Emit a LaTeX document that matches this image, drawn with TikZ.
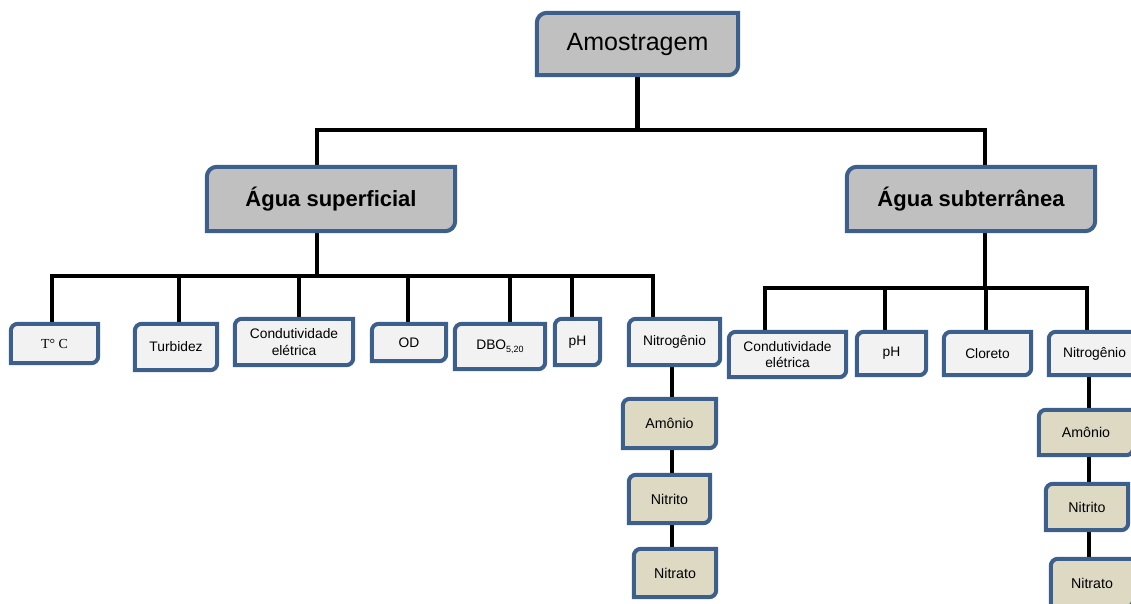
\documentclass[tikz,border=0pt]{standalone}
\usepackage{fontspec}
\setmainfont{Liberation Sans}
\newfontfamily\timesf{Liberation Serif}
\pgfdeclarelayer{lines}
\pgfdeclarelayer{boxes}
\pgfsetlayers{lines,boxes,main}
\definecolor{bord}{HTML}{3C5F8C}
\definecolor{topfill}{HTML}{C0C0C0}
\definecolor{leaffill}{HTML}{F2F2F2}
\definecolor{subfill}{HTML}{DDD9C3}
\tikzset{
  box/.style={inner sep=0pt, align=center, text=black},
  topbox/.style={box, font=\fontsize{25}{28}\selectfont},
  midbox/.style={box, font=\bfseries\fontsize{22}{26}\selectfont},
  leafbox/.style={box, font=\fontsize{13.8}{16.5}\selectfont},
  subbox/.style={box, font=\fontsize{14.2}{17}\selectfont},
  conn/.style={draw=black, line width=4.2pt},
  frame/.style={draw=bord, line width=4pt},
}
\newcommand\dgbox[3]{%
  \begin{pgfonlayer}{boxes}
  \begin{scope}
  \clip (0,0) rectangle (1131,603);
  \filldraw[frame, fill=#2] (#1.north east) -- ([yshift=#3]#1.south east)
     arc[start angle=0, end angle=-90, radius=#3] -- (#1.south west)
     -- ([yshift=-#3]#1.north west)
     arc[start angle=180, end angle=90, radius=#3] -- cycle;
  \end{scope}
  \end{pgfonlayer}}
\begin{document}
\begin{tikzpicture}[x=1pt,y=-1pt]
\useasboundingbox (0,0) rectangle (1131,603);
% top levels
\node[topbox, minimum width=201pt, minimum height=62pt] (amo) at (637.5,44) {Amostragem};
\node[midbox, minimum width=248pt, minimum height=64pt] (sup) at (331,199) {Água superficial};
\node[midbox, minimum width=248pt, minimum height=64pt] (sub) at (971,199) {Água subterrânea};
% left leaves
\node[leafbox, minimum width=87pt, minimum height=39pt] (temp) at (54.5,343.5) {\timesf T° C};
\node[leafbox, minimum width=82pt, minimum height=46pt] (turb) at (176,347) {Turbidez};
\node[leafbox, minimum width=118pt, minimum height=46pt] (condL) at (294,342) {Condutividade\\elétrica};
\node[leafbox, minimum width=74pt, minimum height=37pt] (od) at (409,342.5) {OD};
\node[leafbox, minimum width=90pt, minimum height=45pt] (dbo) at (500,346.5) {DBO\raisebox{-2.5pt}{\fontsize{9}{9}\selectfont 5,20}};
\node[leafbox, minimum width=45pt, minimum height=46pt] (phL) at (577.5,342) {pH};
\node[leafbox, minimum width=91pt, minimum height=46pt] (nitL) at (674.5,342) {Nitrogênio};
\node[subbox, minimum width=93pt, minimum height=49pt] (amoL) at (669.5,423.5) {Amônio};
\node[subbox, minimum width=81pt, minimum height=48pt] (ntiL) at (669.5,499) {Nitrito};
\node[subbox, minimum width=82pt, minimum height=48pt] (ntaL) at (675,573) {Nitrato};
% right leaves
\node[leafbox, minimum width=117pt, minimum height=45pt] (condR) at (787.5,354.5) {Condutividade\\elétrica};
\node[leafbox, minimum width=69pt, minimum height=43pt] (phR) at (891.5,353.5) {pH};
\node[leafbox, minimum width=87pt, minimum height=43pt] (clo) at (987.5,353.5) {Cloreto};
\node[leafbox, minimum width=91pt, minimum height=43pt] (nitR) at (1094.5,353.5) {Nitrogênio};
\node[subbox, minimum width=94pt, minimum height=45pt] (amoR) at (1086,432.5) {Amônio};
\node[subbox, minimum width=82pt, minimum height=46pt] (ntiR) at (1087,507) {Nitrito};
\node[subbox, minimum width=82pt, minimum height=48pt] (ntaR) at (1092,583) {Nitrato};
% frames
\dgbox{amo}{topfill}{10pt}
\dgbox{sup}{topfill}{10pt}
\dgbox{sub}{topfill}{10pt}
\dgbox{temp}{leaffill}{7pt}
\dgbox{turb}{leaffill}{7pt}
\dgbox{condL}{leaffill}{7pt}
\dgbox{od}{leaffill}{7pt}
\dgbox{dbo}{leaffill}{7pt}
\dgbox{phL}{leaffill}{7pt}
\dgbox{nitL}{leaffill}{7pt}
\dgbox{amoL}{subfill}{7pt}
\dgbox{ntiL}{subfill}{7pt}
\dgbox{ntaL}{subfill}{7pt}
\dgbox{condR}{leaffill}{7pt}
\dgbox{phR}{leaffill}{7pt}
\dgbox{clo}{leaffill}{7pt}
\dgbox{nitR}{leaffill}{7pt}
\dgbox{amoR}{subfill}{7pt}
\dgbox{ntiR}{subfill}{7pt}
\dgbox{ntaR}{subfill}{7pt}
% connectors
\begin{pgfonlayer}{lines}
\coordinate (j0) at (637.5,130);
\coordinate (j1) at (317,276);
\coordinate (j2) at (985,288);
\draw[conn] (amo.south) -- (j0);
\draw[conn] ([xshift=-14pt]sup.north) |- (j0) -| ([xshift=14pt]sub.north);
\draw[conn] ([xshift=-14pt]sup.south) -- (j1);
\draw[conn] (j1) -| ([xshift=-2.5pt]temp.north);
\draw[conn] (j1) -| ([xshift=3pt]turb.north);
\draw[conn] (j1) -| ([xshift=5pt]condL.north);
\draw[conn] (j1) -| ([xshift=-1pt]od.north);
\draw[conn] (j1) -| ([xshift=10pt]dbo.north);
\draw[conn] (j1) -| ([xshift=-5.5pt]phL.north);
\draw[conn] (j1) -| ([xshift=-21.5pt]nitL.north);
\draw[conn] ([xshift=-2.5pt]nitL.south) -- ([xshift=2.5pt]amoL.north);
\draw[conn] ([xshift=2.5pt]amoL.south) -- ([xshift=2.5pt]ntiL.north);
\draw[conn] ([xshift=2.5pt]ntiL.south) -- ([xshift=-3pt]ntaL.north);
\draw[conn] ([xshift=14pt]sub.south) -- (j2);
\draw[conn] (j2) -| ([xshift=-22.5pt]condR.north);
\draw[conn] (j2) -| ([xshift=-6.5pt]phR.north);
\draw[conn] (j2) -| ([xshift=-1.5pt]clo.north);
\draw[conn] (j2) -| ([xshift=-7.5pt]nitR.north);
\draw[conn] ([xshift=-5.5pt]nitR.south) -- ([xshift=3pt]amoR.north);
\draw[conn] ([xshift=3pt]amoR.south) -- ([xshift=2pt]ntiR.north);
\draw[conn] ([xshift=2pt]ntiR.south) -- ([xshift=-3pt]ntaR.north);
\end{pgfonlayer}
\end{tikzpicture}
\end{document}
